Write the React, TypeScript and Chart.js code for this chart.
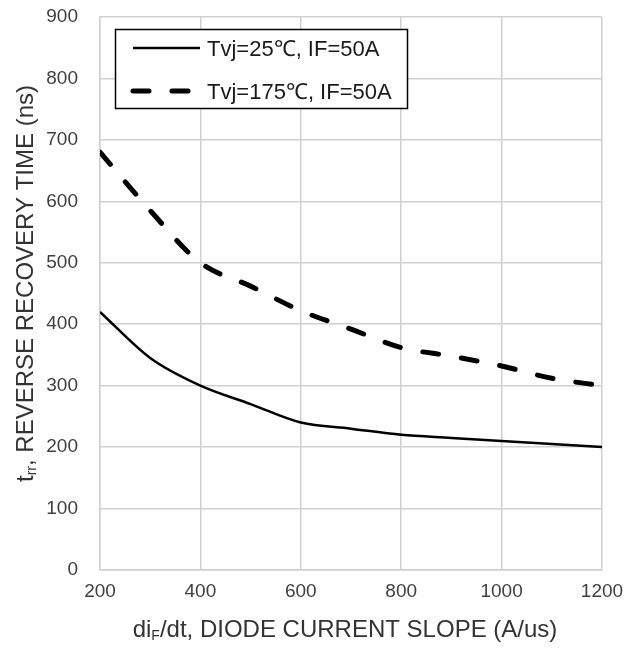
import React, { useEffect, useRef } from "react";
import { Chart, registerables } from "chart.js";

Chart.register(...registerables);

// ---- data ----
const diDt = [200, 300, 400, 500, 600, 700, 800, 900, 1000, 1100, 1200];
const trr25 = [420, 345, 300, 270, 240, 230, 220, 215, 210, 205, 200];
const trr175 = [680, 585, 500, 462, 422, 392, 362, 348, 332, 312, 300];
const seriesLabels = ["Tvj=25\u2103, IF=50A", "Tvj=175\u2103, IF=50A"];
const xMin = 200;
const xMax = 1200;
const xStep = 200;
const yMin = 0;
const yMax = 900;
const yStep = 100;
const yTitleParts = ["t", "rr", ", REVERSE RECOVERY TIME (ns)"];
const xTitleParts = ["di", "F", "/dt, DIODE CURRENT SLOPE (A/us)"];

const FONT = "'Liberation Sans', Arial, Helvetica, sans-serif";
const GRID = "#d0d0d0";
const TICK_COLOR = "#404040";
const TITLE_COLOR = "#333333";

type Seg = { text: string; size: number; dy: number };

function drawRich(ctx: CanvasRenderingContext2D, segs: Seg[], cx: number, baseY: number) {
  let total = 0;
  const widths: number[] = [];
  for (const s of segs) {
    ctx.font = `${s.size}px ${FONT}`;
    const w = ctx.measureText(s.text).width;
    widths.push(w);
    total += w;
  }
  let x = cx - total / 2;
  ctx.textAlign = "left";
  ctx.textBaseline = "alphabetic";
  segs.forEach((s, i) => {
    ctx.font = `${s.size}px ${FONT}`;
    ctx.fillText(s.text, x, baseY + s.dy);
    x += widths[i];
  });
}

const overlayPlugin = {
  id: "overlay",
  afterDraw(chart: any) {
    const ctx: CanvasRenderingContext2D = chart.ctx;
    const { left, right, top, bottom } = chart.chartArea;
    const ds = chart.data.datasets;

    // legend box
    ctx.save();
    const bx = left + 15.5;
    const by = top + 12.5;
    const bw = 292;
    const bh = 79;
    ctx.fillStyle = "#ffffff";
    ctx.fillRect(bx, by, bw, bh);
    ctx.strokeStyle = "#000000";
    ctx.lineWidth = 1.5;
    ctx.strokeRect(bx, by, bw, bh);

    const rows = [top + 31, top + 74];
    ds.forEach((d: any, i: number) => {
      const y = rows[i];
      ctx.save();
      ctx.strokeStyle = d.borderColor;
      ctx.lineWidth = d.borderWidth;
      ctx.lineCap = d.borderCapStyle || "butt";
      ctx.setLineDash(d.borderDash || []);
      ctx.beginPath();
      ctx.moveTo(left + 33, y);
      ctx.lineTo(left + 100, y);
      ctx.stroke();
      ctx.restore();
      ctx.fillStyle = "#1a1a1a";
      ctx.font = `22px ${FONT}`;
      ctx.textAlign = "left";
      ctx.textBaseline = "middle";
      ctx.fillText(d.label, left + 107, y + 2);
    });
    ctx.restore();

    // x title
    ctx.save();
    ctx.fillStyle = TITLE_COLOR;
    drawRich(
      ctx,
      [
        { text: xTitleParts[0], size: 24, dy: 0 },
        { text: xTitleParts[1], size: 14, dy: 3 },
        { text: xTitleParts[2], size: 24, dy: 0 },
      ],
      (left + right) / 2 - 6,
      637
    );
    ctx.restore();

    // y title
    ctx.save();
    ctx.fillStyle = TITLE_COLOR;
    ctx.translate(33, (top + bottom) / 2 - 10);
    ctx.rotate(-Math.PI / 2);
    drawRich(
      ctx,
      [
        { text: yTitleParts[0], size: 24, dy: 0 },
        { text: yTitleParts[1], size: 14, dy: 3 },
        { text: yTitleParts[2], size: 24, dy: 0 },
      ],
      0,
      0
    );
    ctx.restore();
  },
};

export default function App() {
  const ref = useRef<HTMLCanvasElement>(null);

  useEffect(() => {
    if (!ref.current) return;
    const chart = new Chart(ref.current, {
      type: "line",
      data: {
        datasets: [
          {
            label: seriesLabels[0],
            data: diDt.map((x, i) => ({ x, y: trr25[i] })),
            borderColor: "#000000",
            borderWidth: 2.5,
            cubicInterpolationMode: "monotone",
            pointRadius: 0,
            fill: false,
          },
          {
            label: seriesLabels[1],
            data: diDt.map((x, i) => ({ x, y: trr175[i] })),
            borderColor: "#000000",
            borderWidth: 5,
            borderDash: [16, 23],
            borderCapStyle: "round",
            cubicInterpolationMode: "monotone",
            pointRadius: 0,
            fill: false,
          },
        ],
      },
      options: {
        animation: false,
        responsive: false,
        devicePixelRatio: 1,
        layout: { padding: { top: 17, right: 34, left: 0, bottom: 0 } },
        plugins: {
          legend: { display: false },
          tooltip: { enabled: false },
          title: { display: false },
        },
        scales: {
          x: {
            type: "linear",
            min: xMin,
            max: xMax,
            ticks: {
              stepSize: xStep,
              color: TICK_COLOR,
              font: { family: FONT, size: 19 },
              padding: 10,
              maxRotation: 0,
              callback: (v: any) => String(v),
            },
            grid: { color: GRID, lineWidth: 1.5, drawTicks: false },
            border: { color: GRID, width: 1.5 },
            afterFit(scale: any) {
              scale.height = 78;
              scale.paddingLeft = 0;
              scale.paddingRight = 0;
            },
          },
          y: {
            min: yMin,
            max: yMax,
            ticks: {
              stepSize: yStep,
              color: TICK_COLOR,
              font: { family: FONT, size: 19 },
              padding: 22,
              callback: (v: any) => String(v),
            },
            grid: { color: GRID, lineWidth: 1.5, drawTicks: false },
            border: { color: GRID, width: 1.5 },
            afterFit(scale: any) {
              scale.width = 100;
              scale.paddingTop = 0;
              scale.paddingBottom = 0;
            },
          },
        },
      },
      plugins: [overlayPlugin],
    } as any);
    return () => chart.destroy();
  }, []);

  return (
    <div
      style={{
        position: "absolute",
        left: 0,
        top: 0,
        width: 636,
        height: 648,
        background: "#ffffff",
      }}
    >
      <canvas ref={ref} width={636} height={648} style={{ display: "block" }} />
    </div>
  );
}
